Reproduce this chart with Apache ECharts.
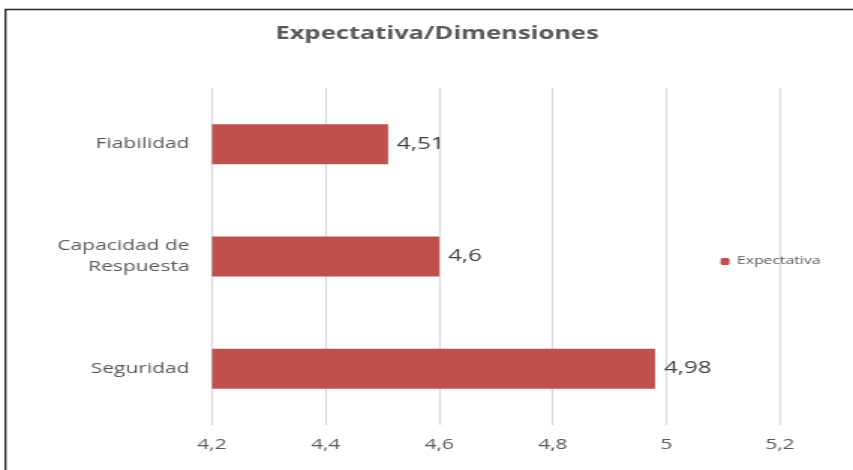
<!DOCTYPE html>
<html><head><meta charset="utf-8">
<script src="https://cdn.jsdelivr.net/npm/echarts@6/dist/echarts.min.js"></script>
<style>
html,body{margin:0;padding:0;background:#fff;overflow:hidden}
#wrap{width:853px;height:470px;overflow:hidden;position:relative}
#c{width:569px;height:470px;transform:scaleX(1.4991);transform-origin:0 0}
</style>
</head><body><div id="wrap"><div id="c"></div></div>
<script>
const categories = ['Fiabilidad', 'Capacidad de\nRespuesta', 'Seguridad'];
const expectativa = [4.51, 4.6, 4.98];
const tickMin = 4.2, tickMax = 5.2, tickStep = 0.2;
const seriesName = 'Expectativa';
const titleText = 'Expectativa/Dimensiones';

const S = 853 / 569; // horizontal stretch of the reference picture
const fmt = v => String(+(+v).toFixed(2)).replace('.', ',');
const chart = echarts.init(document.getElementById('c'), null, {renderer: 'canvas'});
chart.setOption({
  animation: false,
  backgroundColor: '#fff',
  title: {text: titleText, left: 268 / S, top: 21,
    textStyle: {fontFamily: 'Open Sans', fontWeight: 'bold', fontSize: 17, color: '#595959'}},
  legend: {data: [seriesName], left: 713 / S, top: 251, itemWidth: 6, itemHeight: 7, itemGap: 4,
    textStyle: {fontFamily: 'Open Sans', fontSize: 10.5, color: '#595959'}},
  grid: {left: 212 / S, right: 73 / S, top: 88, bottom: 45, containLabel: false},
  xAxis: {type: 'value', min: tickMin, max: tickMax, interval: tickStep,
    axisLine: {show: false}, axisTick: {show: false},
    splitLine: {show: true, lineStyle: {color: '#d9d9d9', width: 1.2}},
    axisLabel: {formatter: fmt, margin: 13, fontFamily: 'Open Sans', fontSize: 14, color: '#595959'}},
  yAxis: {type: 'category', data: categories, inverse: true,
    axisLine: {show: false}, axisTick: {show: false},
    axisLabel: {margin: 15, fontFamily: 'Open Sans', fontSize: 14, color: '#595959', lineHeight: 21}},
  series: [{name: seriesName, type: 'bar', data: expectativa, barWidth: 40,
    itemStyle: {color: '#C0504D'},
    label: {show: true, position: 'right', distance: 6, formatter: p => fmt(p.value),
      fontFamily: 'Open Sans', fontSize: 16, color: '#404040'}}],
  graphic: [{type: 'rect', silent: true, shape: {x: 5.5 / S, y: 9.5, width: 700, height: 500},
    style: {fill: 'none', stroke: '#262626', lineWidth: 1.3}}]
});
</script></body></html>
